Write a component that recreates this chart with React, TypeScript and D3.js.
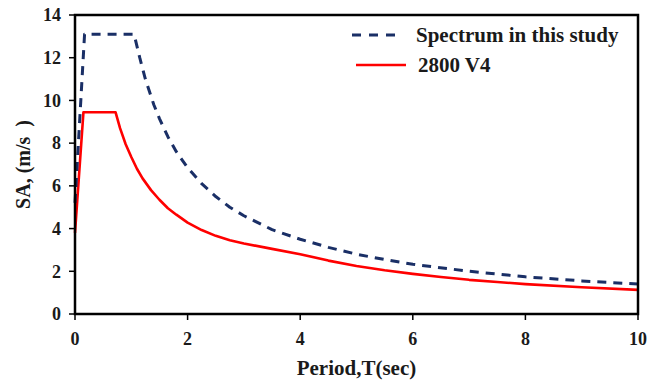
import React from 'react';
import * as d3 from 'd3';

// Spectrum in this study (dashed)
const studyT = [0, 0.17, 1.05, 1.15, 1.25, 1.4, 1.5, 1.65, 1.8, 2, 2.25, 2.5, 2.75, 3, 3.5, 4, 4.5, 5, 5.5, 6, 7, 8, 9, 10];
const studySA = [5.2, 13.1, 13.1, 12.0, 11.0, 9.8, 9.15, 8.3, 7.6, 6.85, 6.1, 5.5, 5.0, 4.6, 3.95, 3.5, 3.12, 2.8, 2.55, 2.33, 2.0, 1.74, 1.55, 1.4];

// 2800 V4 (solid red)
const codeT = [0, 0.15, 0.72, 0.8, 0.9, 1, 1.1, 1.2, 1.35, 1.5, 1.65, 1.8, 2, 2.25, 2.5, 2.75, 3, 3.5, 4, 4.5, 5, 5.5, 6, 6.5, 7, 7.5, 8, 9, 10];
const codeSA = [3.8, 9.45, 9.45, 8.7, 7.95, 7.35, 6.8, 6.35, 5.8, 5.35, 4.95, 4.65, 4.28, 3.93, 3.66, 3.45, 3.3, 3.05, 2.8, 2.5, 2.25, 2.05, 1.88, 1.73, 1.6, 1.5, 1.4, 1.25, 1.13];

const xTicks = [0, 2, 4, 6, 8, 10];
const yTicks = [0, 2, 4, 6, 8, 10, 12, 14];

const W = 660;
const H = 380;
const margin = { top: 15, right: 22, bottom: 66, left: 75 };
const font = '"Liberation Serif", "Times New Roman", serif';
const ink = '#1a1a1a';

export default function App() {
  const x = d3.scaleLinear().domain([0, 10]).range([margin.left, W - margin.right]);
  const y = d3.scaleLinear().domain([0, 14]).range([H - margin.bottom, margin.top]);

  const line = d3
    .line<[number, number]>()
    .x(d => x(d[0]))
    .y(d => y(d[1]));

  const study = studyT.map((t, i) => [t, studySA[i]] as [number, number]);
  const code = codeT.map((t, i) => [t, codeSA[i]] as [number, number]);

  const x0 = x(0);
  const x1 = x(10);
  const y0 = y(0);
  const y1 = y(14);

  return (
    <svg width={W} height={H} style={{ position: 'absolute', left: 0, top: 0, background: '#fff' }}>
      {/* curves */}
      <path d={line(code) || ''} fill="none" stroke="#ff0000" strokeWidth={2.6} strokeLinejoin="round" />
      <path
        d={line(study) || ''}
        fill="none"
        stroke="#1a2f66"
        strokeWidth={3}
        strokeDasharray="9,7"
        strokeLinejoin="round"
      />

      {/* plot frame */}
      <rect x={x0} y={y1} width={x1 - x0} height={y0 - y1} fill="none" stroke="#000" strokeWidth={2.5} />

      {/* y ticks */}
      {yTicks.map(t => (
        <g key={'y' + t}>
          <line x1={x0 - 6} x2={x0} y1={y(t)} y2={y(t)} stroke="#000" strokeWidth={1.5} />
          <text
            x={x0 - 14}
            y={y(t)}
            dy="0.35em"
            textAnchor="end"
            fontFamily={font}
            fontWeight="bold"
            fontSize={18}
            fill={ink}
          >
            {t}
          </text>
        </g>
      ))}

      {/* x ticks */}
      {xTicks.map(t => (
        <g key={'x' + t}>
          <line x1={x(t)} x2={x(t)} y1={y0} y2={y0 + 6} stroke="#000" strokeWidth={1.5} />
          <text
            x={x(t)}
            y={y0 + 31}
            textAnchor="middle"
            fontFamily={font}
            fontWeight="bold"
            fontSize={18}
            fill={ink}
          >
            {t}
          </text>
        </g>
      ))}

      {/* axis titles */}
      <text
        x={(x0 + x1) / 2}
        y={375}
        textAnchor="middle"
        fontFamily={font}
        fontWeight="bold"
        fontSize={21}
        fill={ink}
      >
        Period,T(sec)
      </text>
      <text
        transform={`translate(30,${(y0 + y1) / 2}) rotate(-90)`}
        textAnchor="middle"
        fontFamily={font}
        fontWeight="bold"
        fontSize={20}
        fill={ink}
        style={{ whiteSpace: 'pre' }}
      >
        {'SA, (m/s  )'}
      </text>

      {/* legend */}
      <line x1={352} x2={402} y1={35} y2={35} stroke="#1a2f66" strokeWidth={3} strokeDasharray="9,8" />
      <text x={416} y={42} fontFamily={font} fontWeight="bold" fontSize={21} fill={ink}>
        Spectrum in this study
      </text>
      <line x1={356} x2={406} y1={65} y2={65} stroke="#ff0000" strokeWidth={2.6} />
      <text x={418} y={72} fontFamily={font} fontWeight="bold" fontSize={21} fill={ink}>
        2800 V4
      </text>
    </svg>
  );
}
